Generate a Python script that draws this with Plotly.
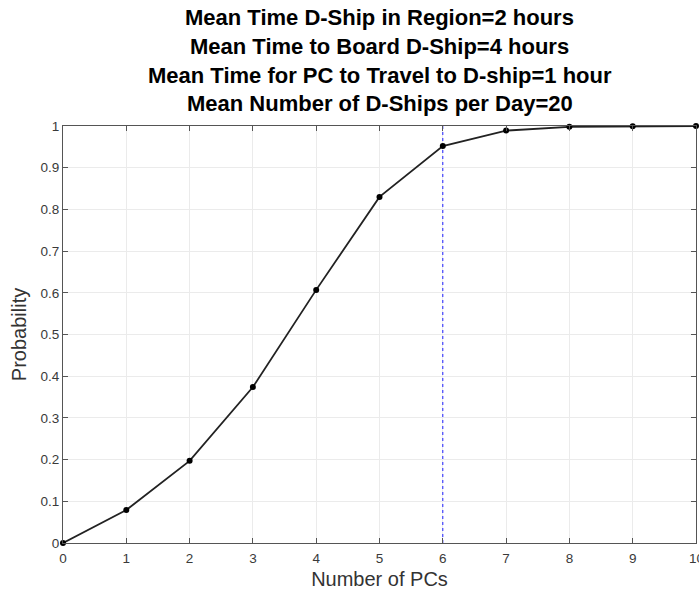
import plotly.graph_objects as go

num_pcs = [0, 1, 2, 3, 4, 5, 6, 7, 8, 9, 10]
probability = [0.0, 0.079, 0.197, 0.374, 0.607, 0.830, 0.952, 0.989, 0.998, 0.9997, 1.0]
threshold_x = 6
title_lines = [
    "Mean Time D-Ship in Region=2 hours",
    "Mean Time to Board D-Ship=4 hours",
    "Mean Time for PC to Travel to D-ship=1 hour",
    "Mean Number of D-Ships per Day=20",
]
title_line_y = [1.259, 1.190, 1.121, 1.055]
x_ticks = list(range(0, 11))
x_tick_text = [str(v) for v in x_ticks]
y_ticks = [0, 0.1, 0.2, 0.3, 0.4, 0.5, 0.6, 0.7, 0.8, 0.9, 1]
y_tick_text = ["0", "0.1", "0.2", "0.3", "0.4", "0.5", "0.6", "0.7", "0.8", "0.9", "1"]

fig = go.Figure()
fig.add_trace(go.Scatter(
    x=[threshold_x, threshold_x], y=[0, 1], mode="lines",
    line=dict(color="#2020ff", width=1, dash="dot"), showlegend=False, hoverinfo="skip"))
fig.add_trace(go.Scatter(
    x=num_pcs, y=probability, mode="lines+markers",
    line=dict(color="#222222", width=1.8),
    marker=dict(color="black", size=6), showlegend=False, cliponaxis=False))

font_family = "Liberation Sans, Arial, sans-serif"
tick_color = "#3a3a3a"
for txt, yy in zip(title_lines, title_line_y):
    fig.add_annotation(text="<b>" + txt + "</b>", x=0.5, y=yy, xref="paper", yref="paper",
                       xanchor="center", yanchor="middle", showarrow=False,
                       font=dict(size=22, color="black", family=font_family))

# last x tick label (cut at the right edge like the reference)
fig.add_annotation(text=x_tick_text[-1], x=x_ticks[-1], y=0, xref="x", yref="paper",
                   xanchor="center", yanchor="top", yshift=-6, showarrow=False,
                   font=dict(size=13.5, color=tick_color, family=font_family))

fig.update_layout(
    width=699, height=594,
    margin=dict(l=63, r=3, t=126, b=51, autoexpand=False),
    paper_bgcolor="white", plot_bgcolor="white",
    font=dict(family=font_family, color="#262626"),
    xaxis=dict(range=[0, 10], tickvals=x_ticks[:-1], ticktext=x_tick_text[:-1],
               ticks="inside", ticklen=5, ticklabelstandoff=3,
               tickcolor="#555555", showline=True, linecolor="#555555", linewidth=1,
               mirror="ticks", showgrid=True, gridcolor="#ebebeb", gridwidth=1,
               zeroline=False, tickfont=dict(size=13.5, color=tick_color),
               title=dict(text="Number of PCs", font=dict(size=20, color="#333333"), standoff=6)),
    yaxis=dict(range=[0, 1], tickvals=y_ticks, ticktext=y_tick_text, ticks="inside", ticklen=5,
               tickcolor="#555555", showline=True, linecolor="#555555", linewidth=1,
               mirror="ticks", showgrid=True, gridcolor="#ebebeb", gridwidth=1,
               zeroline=False, tickfont=dict(size=13.5, color=tick_color),
               title=dict(text="Probability", font=dict(size=20, color="#333333"), standoff=8)),
)
fig.write_html("out.html", config={"displayModeBar": False},
               post_script="document.body.style.margin='0';")
